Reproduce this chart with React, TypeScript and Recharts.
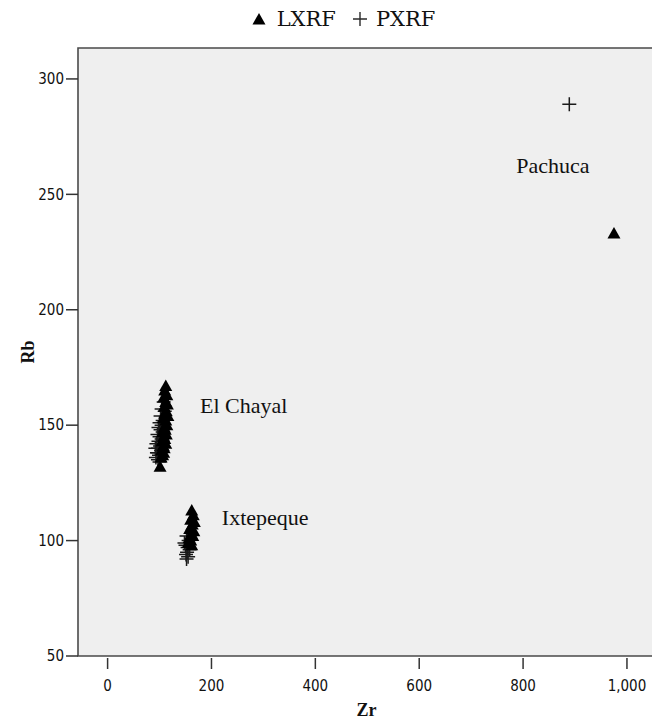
import React from 'react';
import { ScatterChart, Scatter, XAxis, YAxis, CartesianGrid, ReferenceArea } from 'recharts';

// Zr (x) vs Rb (y)
const lxrfPoints = [
  // El Chayal
  [112, 167], [110, 165], [114, 163], [108, 162], [112, 160], [115, 159], [109, 158], [113, 156],
  [110, 155], [116, 154], [107, 153], [112, 152], [114, 150], [109, 149], [111, 148], [106, 147],
  [113, 146], [108, 145], [110, 144], [105, 143], [112, 142], [107, 141], [109, 140], [104, 139],
  [108, 138], [106, 137], [103, 136], [101, 132],
  // Ixtepeque
  [162, 113], [165, 111], [160, 109], [167, 108], [163, 107], [158, 105], [166, 104], [161, 103],
  [164, 102], [157, 101], [160, 100], [155, 99], [162, 98],
  // Pachuca
  [975, 233],
];

const pxrfPoints = [
  // El Chayal
  [108, 160], [104, 157], [110, 156], [102, 154], [106, 152], [100, 151], [104, 150], [98, 149],
  [102, 148], [106, 147], [96, 146], [100, 145], [104, 144], [98, 143], [94, 142], [101, 141],
  [97, 140], [103, 139], [95, 138], [99, 137], [93, 136], [97, 135], [100, 134], [96, 138], [92, 140],
  // Ixtepeque
  [152, 102], [156, 100], [150, 98], [154, 97], [158, 96], [148, 99], [153, 95], [151, 94],
  [155, 93], [152, 92],
  // Pachuca
  [889, 289],
];

const groupLabels = [
  { x: 787, y: 262.7, name: 'Pachuca' },
  { x: 178, y: 158.8, name: 'El Chayal' },
  { x: 220, y: 110.2, name: 'Ixtepeque' },
];

const xTicks = [0, 200, 400, 600, 800, 1000];
const yTicks = [50, 100, 150, 200, 250, 300];

const xDomain = [-57, 1054];
const yDomain = [50, 313.4];

const toXY = (arr: number[][]) => arr.map(([x, y]) => ({ x, y }));

const tickFont = "'DejaVu Sans Condensed', sans-serif";
const serif = "'Liberation Serif', serif";

const Triangle = ({ cx, cy }: any) => (
  <path d={`M${cx},${cy - 6.5} L${cx + 6.5},${cy + 5} L${cx - 6.5},${cy + 5} Z`} fill="#000" />
);

const Plus = ({ cx, cy }: any) => (
  <path d={`M${cx - 7},${cy} H${cx + 7} M${cx},${cy - 7} V${cy + 7}`} stroke="#1a1a1a" strokeWidth={1.5} fill="none" />
);

const GroupLabel = ({ cx, cy, payload }: any) => (
  <text x={cx} y={cy} dy="0.35em" fontFamily={serif} fontSize={22} fill="#111">
    {payload.name}
  </text>
);

const fmt = (v: number) => v.toLocaleString('en-US');

const XTick = ({ x, y, payload }: any) => (
  <g>
    <line x1={x} x2={x} y1={y + 2} y2={y + 13} stroke="#333" strokeWidth={1.5} />
    <text x={x} y={y + 35} textAnchor="middle" fontFamily={tickFont} fontSize={15} fill="#111">
      {fmt(payload.value)}
    </text>
  </g>
);

const ZrLabel = ({ viewBox }: any) => (
  <text x={viewBox.x + viewBox.width / 2} y={viewBox.y + 60} textAnchor="middle"
    fontFamily={serif} fontWeight="bold" fontSize={18} fill="#111">
    Zr
  </text>
);

const RbLabel = ({ viewBox }: any) => {
  const x = viewBox.x + 28;
  const y = viewBox.y + viewBox.height / 2;
  return (
    <text x={x} y={y} transform={`rotate(-90 ${x} ${y})`} textAnchor="middle" dy="0.35em"
      fontFamily={serif} fontWeight="bold" fontSize={18} fill="#111">
      Rb
    </text>
  );
};

const legendFont = "'DejaVu Serif', serif";

export default function App() {
  return (
    <div style={{ margin: -8, position: 'relative', width: 660, height: 725, background: '#fff' }}>
      <div style={{ position: 'absolute', top: 7, left: 0, width: 660, paddingLeft: 26, boxSizing: 'border-box', display: 'flex', justifyContent: 'center', alignItems: 'center', fontFamily: legendFont, fontSize: 21, color: '#111' }}>
        <svg width={16} height={16} style={{ marginRight: 10 }}>
          <path d="M8,2 L14.5,13.5 L1.5,13.5 Z" fill="#000" />
        </svg>
        <span>LXRF</span>
        <svg width={16} height={16} style={{ marginLeft: 16, marginRight: 8 }}>
          <path d="M1,8 H15 M8,1 V15" stroke="#2a2a2a" strokeWidth={1.4} />
        </svg>
        <span>PXRF</span>
      </div>
      <ScatterChart width={660} height={725} margin={{ top: 48, right: 5, bottom: 0, left: 0 }}>
        <CartesianGrid horizontal={false} vertical={false} fill="#efefef" />
        <XAxis
          type="number"
          dataKey="x"
          domain={xDomain}
          ticks={xTicks}
          allowDataOverflow
          height={69}
          axisLine={false}
          tickLine={false}
          tickSize={0}
          tickMargin={0}
          tick={<XTick />}
          label={<ZrLabel />}
        />
        <YAxis
          type="number"
          dataKey="y"
          domain={yDomain}
          ticks={yTicks}
          allowDataOverflow
          width={78}
          axisLine={false}
          tickSize={12}
          tickLine={{ stroke: '#333', strokeWidth: 1.5 }}
          tick={{ fontFamily: tickFont, fontSize: 15, fill: '#111' }}
          label={<RbLabel />}
        />
        <ReferenceArea x1={xDomain[0]} x2={xDomain[1]} y1={yDomain[0]} y2={yDomain[1]} fill="none" stroke="#4a4a4a" strokeWidth={1.6} ifOverflow="visible" />
        <Scatter name="PXRF" data={toXY(pxrfPoints)} shape={<Plus />} isAnimationActive={false} />
        <Scatter name="LXRF" data={toXY(lxrfPoints)} shape={<Triangle />} isAnimationActive={false} />
        <Scatter name="labels" data={groupLabels} shape={<GroupLabel />} isAnimationActive={false} />
      </ScatterChart>
    </div>
  );
}
